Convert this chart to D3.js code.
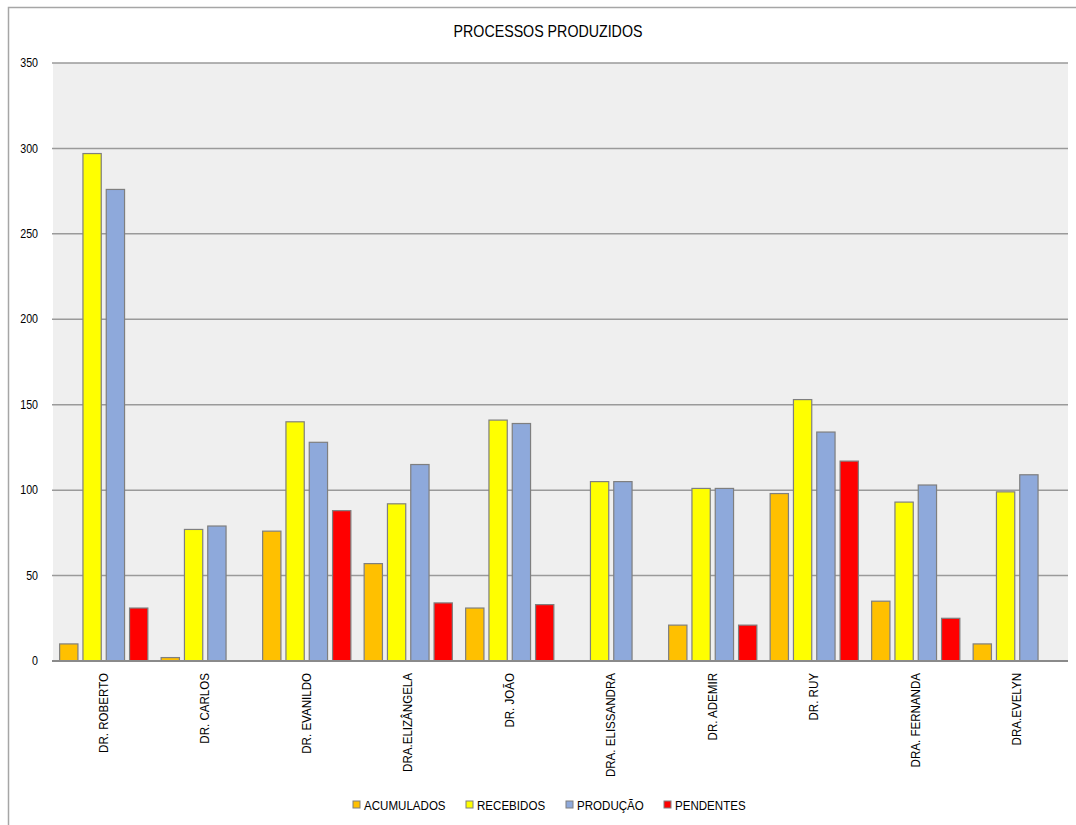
<!DOCTYPE html>
<html>
<head>
<meta charset="utf-8">
<script src="https://cdn.jsdelivr.net/npm/d3@7"></script>
<style>
  body { margin: 0; background: #fff; }
  svg text { font-family: "Liberation Sans Narrow", "Arial Narrow", "Liberation Sans", sans-serif; fill: #000; }
</style>
</head>
<body>
<svg id="chart" width="1076" height="825"></svg>
<script>
const categories = ["DR. ROBERTO", "DR. CARLOS", "DR. EVANILDO", "DRA.ELIZÂNGELA", "DR. JOÃO", "DRA. ELISSANDRA", "DR. ADEMIR", "DR. RUY", "DRA. FERNANDA", "DRA.EVELYN"];
const seriesNames = ["ACUMULADOS", "RECEBIDOS", "PRODUÇÃO", "PENDENTES"];
const acumulados = [10, 2, 76, 57, 31, 0, 21, 98, 35, 10];
const recebidos  = [297, 77, 140, 92, 141, 105, 101, 153, 93, 99];
const producao   = [276, 79, 128, 115, 139, 105, 101, 134, 103, 109];
const pendentes  = [31, 0, 88, 34, 33, 0, 21, 117, 25, 0];
const yTicks = [0, 50, 100, 150, 200, 250, 300, 350];
const colors = ["#FFC000", "#FFFF00", "#8EA9DB", "#FF0000"];

const seriesValues = [acumulados, recebidos, producao, pendentes];
const svg = d3.select("#chart");
const SX = 0.89; // horizontal condensing to mimic a narrow font

// outer frame
svg.append("rect").attr("x", 8.5).attr("y", 7.5).attr("width", 1100).attr("height", 900)
  .attr("fill", "#fff").attr("stroke", "#a6a6a6").attr("stroke-width", 1.5);

const pLeft = 53, pRight = 1068, pTop = 63, pBottom = 661;

const x0 = d3.scaleBand().domain(categories).range([pLeft, pRight]).paddingInner(0).paddingOuter(0);
const x1 = d3.scaleBand().domain(seriesNames).range([0, x0.bandwidth()]).paddingInner(0.215).paddingOuter(0.285);
const y = d3.scaleLinear().domain([0, 350]).range([pBottom, pTop]);

// plot background
svg.append("rect").attr("x", pLeft).attr("y", pTop).attr("width", pRight - pLeft).attr("height", pBottom - pTop)
  .attr("fill", "#EFEFEF");

// gridlines
svg.append("g").selectAll("line").data(yTicks.filter(d => d > 0)).join("line")
  .attr("x1", pLeft - 1).attr("x2", pRight).attr("y1", d => y(d)).attr("y2", d => y(d))
  .attr("stroke", "#9a9a9a").attr("stroke-width", 1.5);

// y axis labels
svg.append("g").selectAll("text").data(yTicks).join("text")
  .attr("transform", d => `translate(38,${y(d)}) scale(${SX},1)`)
  .attr("dy", "0.35em")
  .attr("text-anchor", "end").attr("font-size", 12).text(d => d);

// bars
const barData = [];
categories.forEach((c, i) => {
  seriesNames.forEach((s, j) => {
    barData.push({ cat: c, s: s, v: seriesValues[j][i], color: colors[j] });
  });
});
svg.append("g").selectAll("rect").data(barData.filter(d => d.v > 0)).join("rect")
  .attr("x", d => x0(d.cat) + x1(d.s))
  .attr("y", d => y(d.v))
  .attr("width", x1.bandwidth())
  .attr("height", d => y(0) - y(d.v))
  .attr("fill", d => d.color)
  .attr("stroke", "#7f7f7f").attr("stroke-width", 1.2);

// baseline
svg.append("line").attr("x1", pLeft - 1).attr("x2", pRight).attr("y1", pBottom).attr("y2", pBottom)
  .attr("stroke", "#8a8a8a").attr("stroke-width", 2);

// category labels
svg.append("g").selectAll("text").data(categories).join("text")
  .attr("transform", d => `translate(${x0(d) + x0.bandwidth() / 2 + 4},673) rotate(-90) scale(${SX},1)`)
  .attr("text-anchor", "end").attr("font-size", 13).text(d => d);

// title
svg.append("text").attr("transform", `translate(548,37) scale(${SX},1)`).attr("text-anchor", "middle")
  .attr("font-size", 16).text("PROCESSOS PRODUZIDOS");

// legend
const legendX = [353, 466, 566, 664];
const lg = svg.append("g").selectAll("g").data(seriesNames).join("g")
  .attr("transform", (d, i) => `translate(${legendX[i]},801)`);
lg.append("rect").attr("width", 7).attr("height", 7)
  .attr("fill", (d, i) => colors[i]).attr("stroke", "#7f7f7f").attr("stroke-width", 1);
lg.append("text").attr("transform", `translate(11,4) scale(${SX},1)`).attr("dy", "0.35em")
  .attr("font-size", 13).text(d => d);
</script>
</body>
</html>
